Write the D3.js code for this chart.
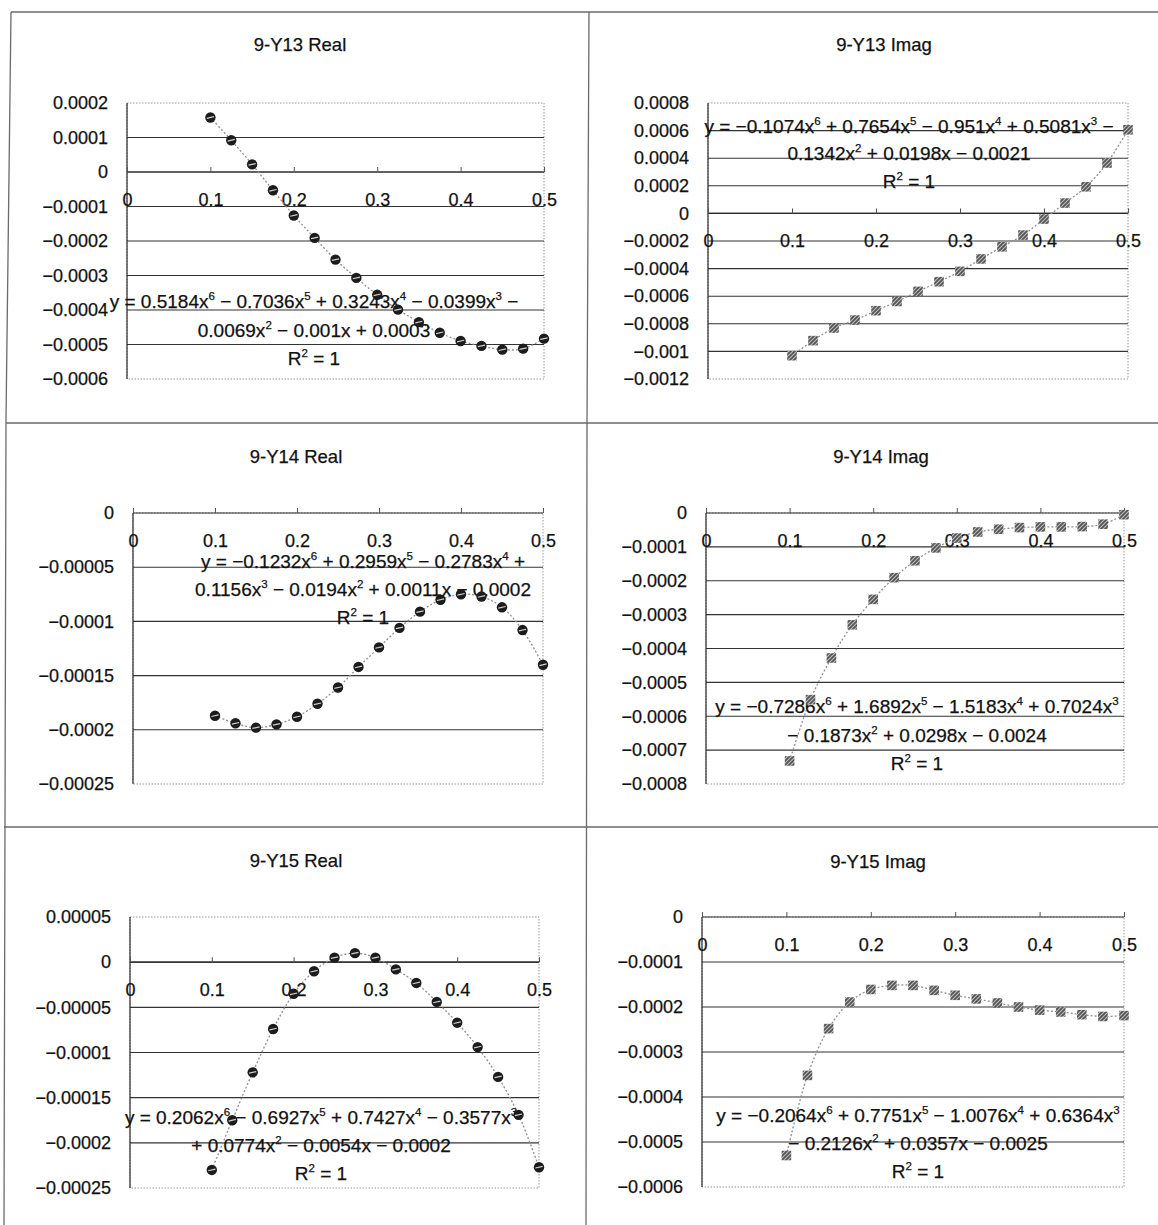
<!DOCTYPE html>
<html>
<head>
<meta charset="utf-8">
<script src="https://cdn.jsdelivr.net/npm/d3@7"></script>
<style>
  html, body { margin: 0; padding: 0; background: #fff; }
  svg { display: block; }
  text { font-family: "Liberation Sans", Arial, sans-serif; fill: #111; stroke: #111; stroke-width: 0.25px; }
</style>
</head>
<body>
<svg id="chart" width="1158" height="1225"></svg>
<script>
// ---------- DATA ----------
const xValues = [0.1, 0.125, 0.15, 0.175, 0.2, 0.225, 0.25, 0.275, 0.3, 0.325, 0.35, 0.375, 0.4, 0.425, 0.45, 0.475, 0.5];
const xTicks = [0, 0.1, 0.2, 0.3, 0.4, 0.5];

const titles = ["9-Y13 Real", "9-Y13 Imag", "9-Y14 Real", "9-Y14 Imag", "9-Y15 Real", "9-Y15 Imag"];

const y13Real = [0.000158, 0.000092, 0.000022, -0.000053, -0.000126, -0.000191, -0.000254, -0.000307, -0.000356, -0.000399, -0.000435, -0.000466, -0.00049, -0.000504, -0.000515, -0.000512, -0.000483];
const y13Imag = [-0.001031, -0.000922, -0.00083, -0.000773, -0.000705, -0.000638, -0.000565, -0.000495, -0.00042, -0.00033, -0.000242, -0.000157, -0.000041, 0.000075, 0.000193, 0.000365, 0.000606];
const y14Real = [-0.000187, -0.000194, -0.000198, -0.000195, -0.000188, -0.000176, -0.000161, -0.000142, -0.000124, -0.000106, -0.000091, -0.00008, -0.000075, -0.000077, -0.000087, -0.000108, -0.00014];
const y14Imag = [-0.000732, -0.000551, -0.000428, -0.00033, -0.000255, -0.000191, -0.000141, -0.000103, -0.000074, -0.000056, -0.000048, -0.000043, -0.000041, -0.000041, -0.00004, -0.000033, -0.000005];
const y15Real = [-0.00023, -0.000175, -0.000122, -0.000074, -0.000035, -0.00001, 0.000005, 0.00001, 0.000005, -0.000008, -0.000023, -0.000044, -0.000067, -0.000094, -0.000127, -0.000169, -0.000227];
const y15Imag = [-0.00053, -0.000352, -0.000248, -0.000189, -0.000161, -0.000152, -0.000152, -0.000163, -0.000174, -0.000182, -0.000191, -0.0002, -0.000207, -0.000211, -0.000217, -0.000221, -0.000219];

const ticks13Real = [0.0002, 0.0001, 0, -0.0001, -0.0002, -0.0003, -0.0004, -0.0005, -0.0006];
const ticks13Imag = [0.0008, 0.0006, 0.0004, 0.0002, 0, -0.0002, -0.0004, -0.0006, -0.0008, -0.001, -0.0012];
const ticks14Real = [0, -0.00005, -0.0001, -0.00015, -0.0002, -0.00025];
const ticks14Imag = [0, -0.0001, -0.0002, -0.0003, -0.0004, -0.0005, -0.0006, -0.0007, -0.0008];
const ticks15Real = [0.00005, 0, -0.00005, -0.0001, -0.00015, -0.0002, -0.00025];
const ticks15Imag = [0, -0.0001, -0.0002, -0.0003, -0.0004, -0.0005, -0.0006];

const eq13Real = ["y = 0.5184x^6 − 0.7036x^5 + 0.3243x^4 − 0.0399x^3 −", "0.0069x^2 − 0.001x + 0.0003", "R^2 = 1"];
const eq13Imag = ["y = −0.1074x^6 + 0.7654x^5 − 0.951x^4 + 0.5081x^3 −", "0.1342x^2 + 0.0198x − 0.0021", "R^2 = 1"];
const eq14Real = ["y = −0.1232x^6 + 0.2959x^5 − 0.2783x^4 +", "0.1156x^3 − 0.0194x^2 + 0.0011x − 0.0002", "R^2 = 1"];
const eq14Imag = ["y = −0.7286x^6 + 1.6892x^5 − 1.5183x^4 + 0.7024x^3", "− 0.1873x^2 + 0.0298x − 0.0024", "R^2 = 1"];
const eq15Real = ["y = 0.2062x^6 − 0.6927x^5 + 0.7427x^4 − 0.3577x^3", "+ 0.0774x^2 − 0.0054x − 0.0002", "R^2 = 1"];
const eq15Imag = ["y = −0.2064x^6 + 0.7751x^5 − 1.0076x^4 + 0.6364x^3", "− 0.2126x^2 + 0.0357x − 0.0025", "R^2 = 1"];

// ---------- LAYOUT ----------
const panels = [
  {title: titles[0], values: y13Real, ticks: ticks13Real, eq: eq13Real, marker: "circle",
   titleX: 300, titleY: 51, plot: {l: 127, r: 544, t: 103, b: 379}, eqX: 314, eqY: [308, 337, 365]},
  {title: titles[1], values: y13Imag, ticks: ticks13Imag, eq: eq13Imag, marker: "square",
   titleX: 884, titleY: 51, plot: {l: 708, r: 1128, t: 103, b: 379}, eqX: 909, eqY: [133, 160, 188]},
  {title: titles[2], values: y14Real, ticks: ticks14Real, eq: eq14Real, marker: "circle",
   titleX: 296, titleY: 463, plot: {l: 133, r: 543, t: 513, b: 784}, eqX: 363, eqY: [568, 596, 624]},
  {title: titles[3], values: y14Imag, ticks: ticks14Imag, eq: eq14Imag, marker: "square",
   titleX: 881, titleY: 463, plot: {l: 706, r: 1124, t: 513, b: 784}, eqX: 917, eqY: [713, 742, 770]},
  {title: titles[4], values: y15Real, ticks: ticks15Real, eq: eq15Real, marker: "circle",
   titleX: 296, titleY: 867, plot: {l: 130, r: 539, t: 917, b: 1188}, eqX: 321, eqY: [1124, 1152, 1180]},
  {title: titles[5], values: y15Imag, ticks: ticks15Imag, eq: eq15Imag, marker: "square",
   titleX: 878, titleY: 868, plot: {l: 702, r: 1124, t: 917, b: 1187}, eqX: 918, eqY: [1122, 1150, 1178]}
];

const svg = d3.select("#chart");

// hatch pattern for square markers
const defs = svg.append("defs");
const pSq = defs.append("pattern").attr("id", "hatchSq").attr("patternUnits", "userSpaceOnUse")
  .attr("width", 4).attr("height", 4);
pSq.append("rect").attr("width", 4).attr("height", 4).attr("fill", "#555");
pSq.append("path").attr("d", "M-1,1 L1,-1 M0,4 L4,0 M3,5 L5,3").attr("stroke", "#bdbdbd").attr("stroke-width", 1.1);

// sheet cell borders
const border = svg.append("g").attr("fill", "none").attr("stroke", "#6a6a6a").attr("stroke-width", 1.3);
border.append("path").attr("d", "M11,12 L1158,12");
border.append("path").attr("d", "M11,12 L6,420 L4,1225");
border.append("path").attr("d", "M589,12 L587,423 L586,1225");
border.append("path").attr("d", "M6,423 L1158,423");
border.append("path").attr("d", "M4,827 L1158,827");

const yFmt = d3.format(".5~f");
const xFmt = d3.format("~g");

function drawEqLine(g, str, x, y) {
  const t = g.append("text").attr("x", x).attr("y", y).attr("text-anchor", "middle")
    .style("font-size", "19px");
  const parts = str.split(/(\^\d)/);
  let raised = false;
  parts.forEach(p => {
    if (!p) return;
    if (p[0] === "^") {
      t.append("tspan").attr("dy", -8).style("font-size", "11.5px").text(p.slice(1));
      raised = true;
    } else {
      const s = t.append("tspan").text(p);
      if (raised) { s.attr("dy", 8); raised = false; }
    }
  });
}

panels.forEach(p => {
  const g = svg.append("g");
  const x = d3.scaleLinear().domain([0, 0.5]).range([p.plot.l, p.plot.r]);
  const y = d3.scaleLinear().domain([d3.min(p.ticks), d3.max(p.ticks)]).range([p.plot.b, p.plot.t]);

  // title
  g.append("text").attr("x", p.titleX).attr("y", p.titleY).attr("text-anchor", "middle")
    .style("font-size", "18.5px").text(p.title);

  // plot area border (dotted)
  g.append("rect").attr("x", p.plot.l).attr("y", p.plot.t)
    .attr("width", p.plot.r - p.plot.l).attr("height", p.plot.b - p.plot.t)
    .attr("fill", "none").attr("stroke", "#9a9a9a").attr("stroke-width", 1).attr("stroke-dasharray", "1.5,1.5");

  // gridlines (interior ticks)
  const inner = p.ticks.filter(v => v !== d3.min(p.ticks) && v !== d3.max(p.ticks));
  g.append("g").selectAll("line").data(inner).join("line")
    .attr("x1", p.plot.l).attr("x2", p.plot.r)
    .attr("y1", d => y(d)).attr("y2", d => y(d))
    .attr("stroke", "#333").attr("stroke-width", 1.1);

  // x axis line at y = 0
  g.append("line").attr("x1", p.plot.l).attr("x2", p.plot.r)
    .attr("y1", y(0)).attr("y2", y(0)).attr("stroke", "#2a2a2a").attr("stroke-width", 1.2);

  // y axis line
  g.append("line").attr("x1", p.plot.l).attr("x2", p.plot.l)
    .attr("y1", p.plot.t).attr("y2", p.plot.b).attr("stroke", "#2a2a2a").attr("stroke-width", 1.2);

  // y axis labels
  const ya = g.append("g").attr("transform", `translate(${p.plot.l},0)`)
    .call(d3.axisLeft(y).tickValues(p.ticks).tickFormat(yFmt).tickSize(0).tickPadding(19));
  ya.select(".domain").remove();
  ya.selectAll("text").style("font-size", "18px").attr("fill", "#111")
    .style("font-family", '"Liberation Sans", Arial, sans-serif');

  // x axis tick marks (upward)
  const xt = g.append("g").attr("transform", `translate(0,${y(0)})`)
    .call(d3.axisTop(x).tickValues(xTicks).tickSize(5).tickFormat(""));
  xt.select(".domain").remove();
  xt.selectAll("line").attr("stroke", "#555");

  // x axis labels (below axis)
  const xa = g.append("g").attr("transform", `translate(0,${y(0)})`)
    .call(d3.axisBottom(x).tickValues(xTicks).tickFormat(xFmt).tickSize(0).tickPadding(21));
  xa.select(".domain").remove();
  xa.selectAll("text").style("font-size", "18px").attr("fill", "#111")
    .style("font-family", '"Liberation Sans", Arial, sans-serif');

  // trend line (dotted, smooth through points)
  const pts = xValues.map((xv, i) => [xv, p.values[i]]);
  const line = d3.line().x(d => x(d[0])).y(d => y(d[1])).curve(d3.curveCatmullRom.alpha(0.5));
  g.append("path").datum(pts).attr("d", line).attr("fill", "none")
    .attr("stroke", "#909090").attr("stroke-width", 1.3).attr("stroke-dasharray", "2,2");

  // equation text
  p.eq.forEach((s, i) => drawEqLine(g, s, p.eqX, p.eqY[i]));

  // markers
  if (p.marker === "circle") {
    const m = g.append("g").selectAll("g").data(pts).join("g")
      .attr("transform", d => `translate(${x(d[0])},${y(d[1])})`);
    m.append("circle").attr("r", 5.2).attr("fill", "#1c1c1c");
    m.append("line").attr("x1", -3.6).attr("y1", 0.8).attr("x2", 3.6).attr("y2", -0.8)
      .attr("stroke", "#d0d0d0").attr("stroke-width", 1.2);
  } else {
    g.append("g").selectAll("rect").data(pts).join("rect")
      .attr("x", d => x(d[0]) - 4.8).attr("y", d => y(d[1]) - 4.8)
      .attr("width", 9.6).attr("height", 9.6).attr("fill", "url(#hatchSq)");
  }
});
</script>
</body>
</html>
